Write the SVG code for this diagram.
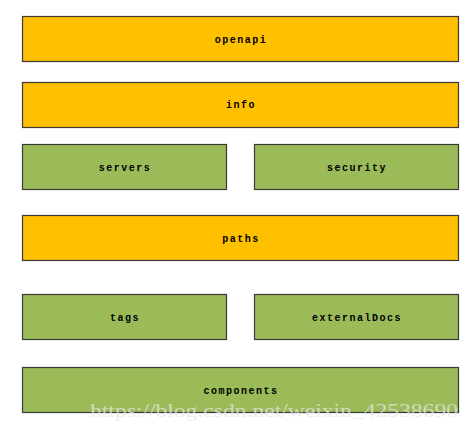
<svg xmlns="http://www.w3.org/2000/svg" width="471" height="430" viewBox="0 0 471 430">
<style>
.y{fill:#FFC000;stroke:#3a3a3a;stroke-width:1.2}
.g{fill:#9BBB59;stroke:#3a3a3a;stroke-width:1.2}
.t{font-family:"Liberation Mono",monospace;font-size:10px;font-weight:bold;letter-spacing:1.5px;text-anchor:middle;fill:#000}
.w{font-family:"Liberation Serif",serif;font-size:19px;fill:#e8e8e8;opacity:0.7}
</style>
<rect width="471" height="430" fill="#fff"/>
<g id="openapi"><rect class="y" x="22.5" y="16.5" width="436" height="45"/><text class="t" x="241" y="43">openapi</text></g>
<g id="info"><rect class="y" x="22.5" y="82.5" width="436" height="45"/><text class="t" x="241" y="108">info</text></g>
<g id="servers"><rect class="g" x="22.5" y="144.5" width="204" height="45"/><text class="t" x="125" y="171">servers</text></g>
<g id="security"><rect class="g" x="254.5" y="144.5" width="204" height="45"/><text class="t" x="357" y="171">security</text></g>
<g id="paths"><rect class="y" x="22.5" y="215.5" width="436" height="45"/><text class="t" x="241" y="242">paths</text></g>
<g id="tags"><rect class="g" x="22.5" y="294.5" width="204" height="45"/><text class="t" x="125" y="321">tags</text></g>
<g id="externalDocs"><rect class="g" x="254.5" y="294.5" width="204" height="45"/><text class="t" x="357" y="321">externalDocs</text></g>
<g id="components"><rect class="g" x="22.5" y="367.5" width="436" height="45"/><text class="t" x="241" y="394">components</text></g>
<g id="connectors"></g>
<text class="w" x="90" y="417" textLength="368" lengthAdjust="spacingAndGlyphs">https://blog.csdn.net/weixin_42538690</text>
</svg>
